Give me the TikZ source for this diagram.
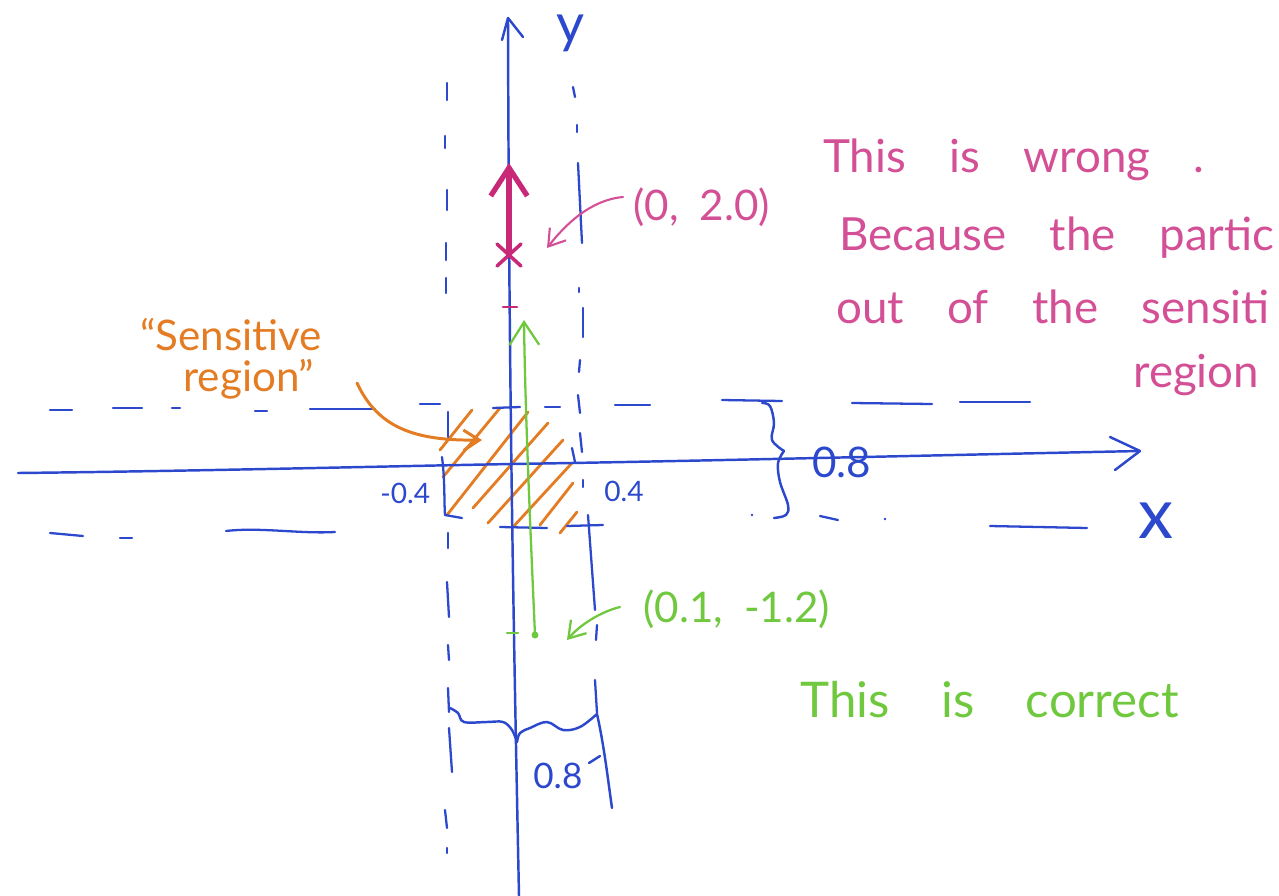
\documentclass[tikz,border=0pt]{standalone}
\usepackage{fontspec}
\setmainfont{Lato}
\usetikzlibrary{arrows.meta}
\definecolor{penblue}{RGB}{44,72,205}
\definecolor{penorange}{RGB}{228,124,36}
\definecolor{penmag}{RGB}{200,40,120}
\definecolor{penpink}{RGB}{212,80,150}
\definecolor{pengreen}{RGB}{112,200,62}
\begin{document}
\begin{tikzpicture}[x=0.02cm,y=-0.02cm,line cap=round,line join=round,
  axisline/.style={penblue,line width=1.4pt},
  dsh/.style={penblue,line width=1.3pt},
  hatchline/.style={penorange,line width=1.6pt},
  hand/.style={inner sep=0pt,anchor=base west,font=\fontsize{#1}{#1}\selectfont},
  barb/.style={-{Straight Barb[length=#1,width=#1*1.3]}}]
\useasboundingbox (0,0) rectangle (1279,896);

% ---------- hatched sensitive region ----------
\foreach \xa/\ya/\xb/\yb in {440/450/472/410, 443/477/500/408, 447/515/528/412,
  473/508/548/423, 488/523/563/440, 513/527/572/463, 540/525/573/483, 560/533/577/512}
  \draw[hatchline] (\xa,\ya) -- (\xb,\yb);

% ---------- dashed boundary lines ----------
\foreach \xa/\ya/\xb/\yb in {50/410/72/410, 113/408/142/408, 172/408/180/408, 255/411/267/411,
  310/409/375/409, 420/404/440/404, 493/408/520/407, 545/407/560/407, 615/405/650/405,
  722/400/782/401, 852/403/932/404, 960/402/1030/402,
  50/533/83/536, 120/538/132/538, 500/527/547/528, 567/526/603/525, 820/516/838/520, 990/526/1087/528,
  447/83/447/100, 445/136/445/148, 447/190/447/210, 446/243/446/260, 446/278/446/293,
  448/412/448/437, 448/533/448/548, 447/582/449/617, 448/645/449/660, 448/688/449/712,
  449/728/452/772, 445/810/447/828, 447/848/447/853,
  573/87/575/97, 577/125/577/132, 578/163/582/243, 579/288/579/292, 583/308/583/337,
  580/360/579/372, 578/395/580/413, 580/433/582/452, 572/448/575/462, 583/480/583/487,
  588/515/595/610, 597/625/596/640, 595/680/597/713}
  \draw[dsh] (\xa,\ya) -- (\xb,\yb);
\draw[dsh] (226,531) .. controls (260,527) and (300,534) .. (335,532);
\draw[dsh] (442,457) .. controls (445,480) and (444,500) .. (445,515) -- (462,518);
\fill[penblue] (752,515) circle (1.3) (885,519) circle (1.3);

% ---------- axes ----------
\coordinate (yb) at (519,896);
\coordinate (yt) at (508,18);
\draw[axisline] (yb) .. controls (514,650) and (509,400) .. (yt);
\draw[axisline] (502,40) -- (yt) -- (523,37);
\coordinate (xl) at (18,473);
\coordinate (xr) at (1140,451);
\draw[axisline] (xl) .. controls (200,471) and (400,466) .. (512,464)
  .. controls (700,461) and (900,456) .. (xr);
\draw[axisline] (1110,437) -- (xr) -- (1115,470);
\node[hand=31,text=penblue] (ylab) at (556,42) {y};
\node[hand=40,text=penblue] (xlab) at (1138,538) {x};

% ---------- tick labels ----------
\node[hand=16,text=penblue] (mlab) at (380,503) {-0.4};
\node[hand=16,text=penblue] (plab) at (604,501) {0.4};

% ---------- right brace 0.8 ----------
\draw[axisline] plot[smooth,tension=0.6] coordinates {(762,403) (770,406) (774,423) (772,440) (784,451)};
\draw[axisline] plot[smooth,tension=0.6] coordinates {(784,451) (778,463) (780,482) (788,505) (786,515) (774,518)};
\node[hand=24,text=penblue] (hlab) at (812,477) {0.8};

% ---------- bottom brace 0.8 ----------
\draw[axisline] plot[smooth,tension=0.6] coordinates {(450,708) (458,713) (464,722) (487,722) (503,722) (512,730) (517,742)};
\draw[axisline] plot[smooth,tension=0.6] coordinates {(517,742) (520,733) (530,728) (547,722) (563,730) (580,727) (597,714)};
\draw[axisline] (597,714) .. controls (604,745) and (608,780) .. (612,808);
\draw[axisline] (600,756) -- (589,763);
\node[hand=20,text=penblue] (vlab) at (533,788) {0.8};

% ---------- sensitive region label ----------
\node[hand=24,text=penorange] (sens1) at (140,350) {“Sensitive};
\node[hand=24,text=penorange] (sens2) at (183,391) {region”};
\coordinate (sensfrom) at (357,383);
\coordinate (senstip) at (482,440);
\draw[penorange,line width=1.7pt,barb=9pt] (sensfrom) .. controls (378,428) and (415,441) .. (senstip);

% ---------- wrong point (magenta) ----------
\coordinate (xmark) at (509,255);
\coordinate (magtop) at (509,163);
\draw[penmag,line width=3pt,barb=16pt] (xmark) -- (magtop);
\draw[penmag,line width=2pt] (497,244) -- (521,266) (497,266) -- (521,244);
\draw[penmag,line width=1.5pt] (503,307) -- (517,307);
\node[hand=24,text=penpink] (wlab) at (633,220) {\spaceskip=0.5em (0, 2.0)};
\coordinate (wfrom) at (623,197);
\coordinate (wtip) at (547,248);
\draw[penpink,line width=1.2pt,barb=9pt] (wfrom) .. controls (590,200) and (565,225) .. (wtip);

\node[hand=26,text=penpink] (wr1) at (823,172) {\spaceskip=0.95em This is wrong .};
\node[hand=26,text=penpink] (wr2) at (839,250) {\spaceskip=0.95em Because the partic};
\node[hand=26,text=penpink] (wr3) at (836,323) {\spaceskip=0.95em out of the sensiti};
\node[hand=26,text=penpink] (wr4) at (1133,387) {region};

% ---------- correct point (green) ----------
\coordinate (gdot) at (535,635);
\coordinate (gtop) at (524,320);
\draw[pengreen,line width=1.3pt,barb=13pt] (gdot) .. controls (529,500) and (525,400) .. (gtop);
\fill[pengreen] (gdot) circle (3.5);
\draw[pengreen,line width=1.2pt] (507,633) -- (518,633);
\node[hand=24,text=pengreen] (clab) at (643,622) {\spaceskip=0.5em (0.1, -1.2)};
\coordinate (cfrom) at (620,607);
\coordinate (ctip) at (567,640);
\draw[pengreen,line width=1.3pt,barb=9pt] (cfrom) .. controls (600,612) and (580,625) .. (ctip);
\node[hand=28,text=pengreen] (corr) at (800,717) {\spaceskip=1.05em This is correct};
\end{tikzpicture}
\end{document}
